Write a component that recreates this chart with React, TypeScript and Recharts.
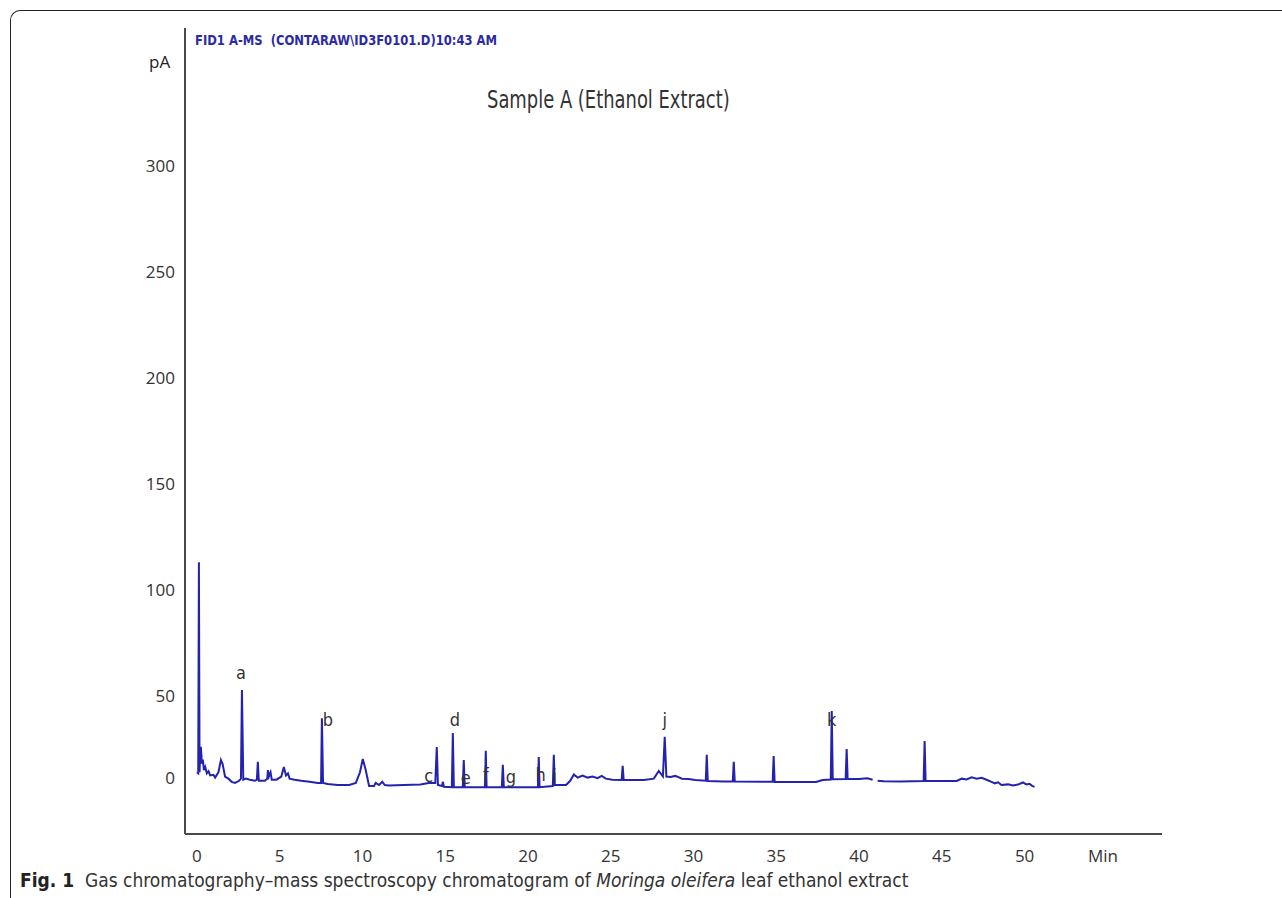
import React from "react";
import { ComposedChart, Line, Scatter, XAxis, YAxis } from "recharts";

// retention time (min) and detector signal (pA)
const times = [
  0.0, 0.08, 0.12, 0.16, 0.2, 0.24, 0.3, 0.36, 0.42, 0.5, 0.6, 0.7, 0.8, 1.0, 1.1, 1.3, 1.45, 1.55, 1.7, 1.9,
  2.1, 2.3, 2.55, 2.66, 2.72, 2.8, 2.95, 3.2, 3.5, 3.62, 3.68, 3.74, 4.1, 4.25, 4.29, 4.35, 4.45, 4.52, 4.8, 5.1,
  5.25, 5.38, 5.5, 5.6, 5.9, 6.3, 6.8, 7.3, 7.5, 7.55, 7.62, 7.9, 8.5, 9.2, 9.6, 9.85, 10.02, 10.2, 10.4, 10.7,
  10.8, 11.0, 11.2, 11.35, 11.6, 12.5, 13.5, 14.0, 14.4, 14.49, 14.56, 14.8, 14.86, 14.92, 15.4, 15.46, 15.52, 16.06, 16.12, 16.18,
  17.4, 17.45, 17.5, 18.42, 18.48, 18.54, 20.6, 20.65, 20.7, 21.5, 21.56, 21.62, 22.3, 22.55, 22.77, 23.0, 23.3, 23.6, 23.9, 24.2,
  24.45, 24.7, 25.1, 25.66, 25.72, 25.78, 27.0, 27.6, 27.9, 28.15, 28.26, 28.36, 28.6, 28.9, 29.3, 29.7, 30.1, 30.74, 30.8, 30.86,
  31.8, 32.37, 32.43, 32.49, 34.78, 34.84, 34.9, 37.4, 37.8, 38.29, 38.35, 38.41, 39.19, 39.25, 39.31, 40.0, 40.5, 40.82, 40.97, 41.12,
  41.5, 42.5, 43.9, 43.96, 44.02, 45.9, 46.2, 46.5, 46.8, 47.1, 47.4, 47.7, 48.0, 48.2, 48.4, 48.6, 49.0, 49.3, 49.6, 49.9,
  50.1, 50.3, 50.45, 50.6,
];
const signal = [
  14.0, 13.5, 113.0, 14.0, 24.0, 26.0, 18.0, 20.0, 15.0, 16.5, 13.5, 14.5, 12.5, 12.8, 11.5, 14.0, 19.8, 18.0, 12.0, 11.0,
  9.5, 9.0, 10.0, 11.0, 52.8, 10.5, 11.0, 10.5, 10.0, 10.5, 18.9, 10.0, 10.0, 11.0, 15.0, 12.0, 14.0, 10.5, 10.5, 12.0,
  16.5, 12.5, 13.5, 11.0, 10.5, 10.0, 9.5, 9.0, 9.0, 39.5, 9.0, 8.5, 8.0, 8.0, 9.0, 14.0, 20.3, 15.0, 7.5, 7.5,
  9.0, 8.0, 9.5, 8.0, 7.8, 8.0, 8.3, 9.0, 9.0, 25.9, 8.0, 7.5, 9.5, 7.2, 7.0, 32.5, 7.0, 7.0, 19.8, 7.0,
  7.0, 24.1, 7.0, 7.0, 17.5, 7.0, 7.0, 21.2, 7.0, 7.5, 22.2, 8.0, 8.0, 10.0, 13.0, 11.5, 12.5, 11.5, 12.0, 11.2,
  12.3, 11.0, 10.5, 10.4, 17.0, 10.4, 10.4, 11.0, 14.6, 12.0, 30.7, 12.0, 11.8, 12.3, 11.0, 10.8, 10.4, 10.0, 22.2, 9.9,
  9.6, 9.6, 18.9, 9.6, 9.5, 21.7, 9.4, 9.4, 10.4, 10.6, 42.9, 10.7, 10.8, 25.0, 10.8, 10.8, 11.2, 10.5, null, 10.0,
  9.8, 9.7, 9.9, 28.8, 9.9, 9.9, 11.0, 10.6, 11.6, 11.0, 11.4, 10.5, 9.5, 8.8, 9.3, 8.0, 8.3, 7.8, 8.2, 9.2,
  8.3, 8.6, 7.6, 7.1,
];

const peakNames = ["a", "b", "c", "d", "e", "f", "g", "h", "i", "j", "k"];
const peakTimes = [2.66, 7.91, 14.0, 15.58, 16.24, 17.45, 18.96, 20.77, 21.6, 28.26, 38.35];
const peakLabelLevels = [60.8, 38.7, 12.3, 38.7, 11.3, 12.7, 11.8, 12.7, 12.3, 38.7, 38.7];

const xTicks = [0, 5, 10, 15, 20, 25, 30, 35, 40, 45, 50];
const yTicks = [0, 50, 100, 150, 200, 250, 300];

const chartData = times.map((t, i) => ({ t, v: signal[i] }));
const peakData = peakNames.map((name, i) => ({ t: peakTimes[i], v: peakLabelLevels[i], name }));

const tickFont = "'Open Sans', 'Noto Sans', sans-serif";
const narrowFont = "'Liberation Sans Narrow', 'DejaVu Sans Condensed', sans-serif";

const YTick = (props: any) => {
  const { x, y, payload } = props;
  // the 0 label sits on the trace baseline in the original figure
  const shift = payload.value === 0 ? -24 : 0;
  return (
    <text x={x - 2} y={y + shift} dy="0.35em" textAnchor="end" fontSize={17} fontFamily={tickFont} fill="#333">
      {payload.value}
    </text>
  );
};

const XTick = (props: any) => {
  const { x, y, payload } = props;
  return (
    <text x={x} y={y + 14} dy="0.35em" textAnchor="middle" fontSize={17} fontFamily={tickFont} fill="#333">
      {payload.value}
    </text>
  );
};

const PeakLabel = (props: any) => {
  const { cx, cy, payload } = props;
  return (
    <text x={cx} y={cy} dy="0.35em" textAnchor="middle" fontSize={18} fontFamily={narrowFont} fill="#333">
      {payload.name}
    </text>
  );
};

export default function App() {
  return (
    <div style={{ position: "absolute", left: 0, top: 0, width: 1282, height: 898, overflow: "hidden", background: "#fff" }}>
      <div
        style={{
          position: "absolute",
          left: 10,
          top: 10,
          width: 1400,
          height: 1000,
          borderTop: "1.5px solid #222",
          borderLeft: "1.5px solid #222",
          borderTopLeftRadius: 10,
        }}
      />
      <ComposedChart
        width={1282}
        height={898}
        data={chartData}
        margin={{ top: 28, right: 120, left: 125, bottom: 34 }}
        style={{ position: "absolute", left: 0, top: 0 }}
      >
        <XAxis
          dataKey="t"
          type="number"
          domain={[-0.72, 58.3]}
          ticks={xTicks}
          allowDataOverflow
          height={30}
          tickLine={false}
          axisLine={{ stroke: "#4a4a4a", strokeWidth: 2 }}
          tick={<XTick />}
        />
        <YAxis
          type="number"
          domain={[-15.1, 365]}
          ticks={yTicks}
          allowDataOverflow
          width={60}
          tickLine={false}
          axisLine={{ stroke: "#4a4a4a", strokeWidth: 2 }}
          tick={<YTick />}
        />
        <Line
          dataKey="v"
          type="linear"
          stroke="#2323b0"
          strokeWidth={2}
          dot={false}
          isAnimationActive={false}
        />
        <Scatter data={peakData} dataKey="v" shape={<PeakLabel />} isAnimationActive={false} />
      </ComposedChart>

      <div
        style={{
          position: "absolute",
          left: 195,
          top: 31,
          fontFamily: narrowFont,
          fontSize: 14,
          fontWeight: "bold",
          color: "#2b2ba6",
          whiteSpace: "pre",
          lineHeight: "18px",
          transform: "scaleX(0.92)",
          transformOrigin: "left center",
        }}
      >
        {"FID1 A-MS  (CONTARAW\\ID3F0101.D)10:43 AM"}
      </div>
      <div
        style={{ position: "absolute", left: 149, top: 51, fontFamily: tickFont, fontSize: 17, color: "#222", lineHeight: "22px" }}
      >
        pA
      </div>
      <div
        style={{
          position: "absolute",
          left: 487,
          top: 85,
          fontFamily: narrowFont,
          fontSize: 24,
          color: "#333",
          lineHeight: "30px",
          whiteSpace: "pre",
          transform: "scaleX(0.83)",
          transformOrigin: "left center",
        }}
      >
        Sample A (Ethanol Extract)
      </div>
      <div
        style={{ position: "absolute", left: 1088, top: 845, fontFamily: tickFont, fontSize: 17, color: "#333", lineHeight: "22px" }}
      >
        Min
      </div>
      <div
        style={{ position: "absolute", left: 20, top: 869, fontFamily: narrowFont, fontSize: 19, color: "#333", lineHeight: "22px", whiteSpace: "pre" }}
      >
        <b style={{ color: "#222" }}>Fig. 1</b>
        {"  Gas chromatography–mass spectroscopy chromatogram of "}
        <i>Moringa oleifera</i>
        {" leaf ethanol extract"}
      </div>
    </div>
  );
}
